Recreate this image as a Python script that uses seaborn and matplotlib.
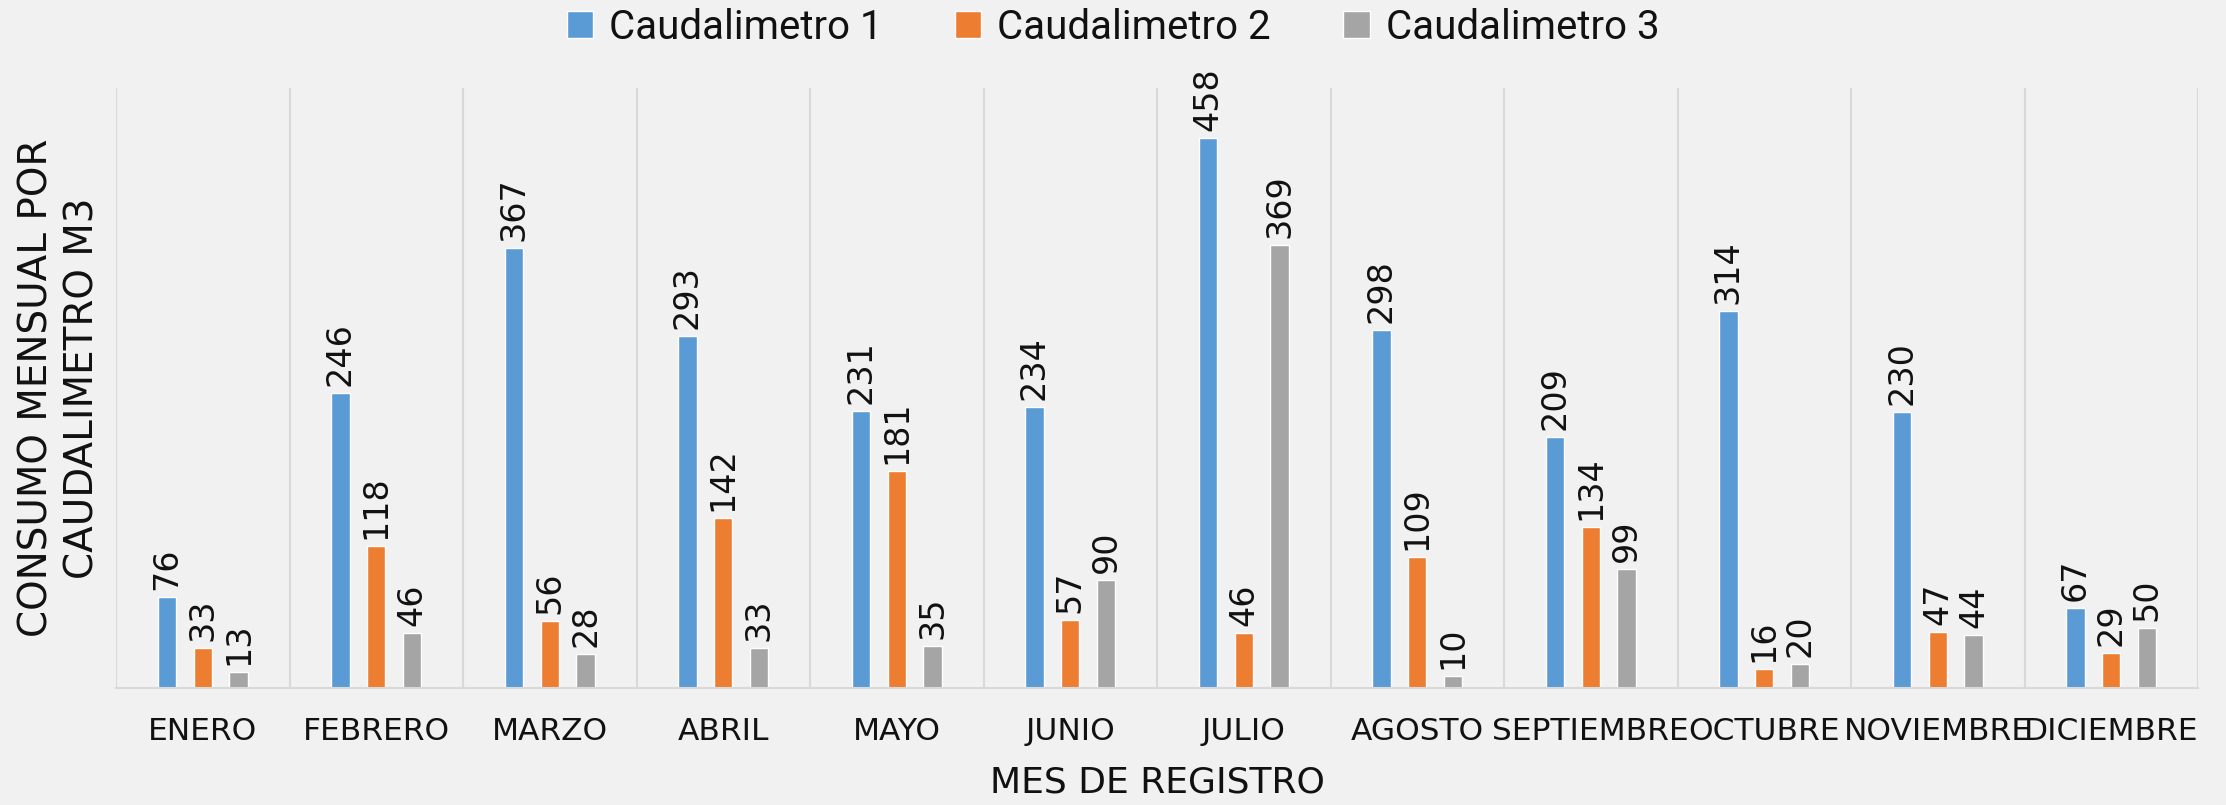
import matplotlib
matplotlib.use("Agg")
import matplotlib.pyplot as plt
import seaborn as sns
import pandas as pd
import numpy as np

meses = ["ENERO", "FEBRERO", "MARZO", "ABRIL", "MAYO", "JUNIO", "JULIO",
         "AGOSTO", "SEPTIEMBRE", "OCTUBRE", "NOVIEMBRE", "DICIEMBRE"]
series = ["Caudalimetro 1", "Caudalimetro 2", "Caudalimetro 3"]
c1 = [76, 246, 367, 293, 231, 234, 458, 298, 209, 314, 230, 67]
c2 = [33, 118, 56, 142, 181, 57, 46, 109, 134, 16, 47, 29]
c3 = [13, 46, 28, 33, 35, 90, 369, 10, 99, 20, 44, 50]
colores = ["#5B9BD5", "#ED7D31", "#A5A5A5"]

df = pd.DataFrame({
    "mes": meses * 3,
    "serie": [series[0]] * 12 + [series[1]] * 12 + [series[2]] * 12,
    "valor": c1 + c2 + c3,
})

sns.set_theme(style="white")
plt.rcParams["font.family"] = ["DejaVu Sans"]
bg = "#f1f1f1"

fig = plt.figure(figsize=(22.26, 8.05), dpi=100, facecolor=bg)
ax = fig.add_axes([116 / 2226, 1 - 688 / 805, (2198 - 116) / 2226, 600 / 805])
ax.set_facecolor(bg)

sns.barplot(data=df, x="mes", y="valor", hue="serie", order=meses,
            hue_order=series, palette=colores, width=0.62, gap=0.49,
            saturation=1, errorbar=None, ax=ax, legend=True)

for cont in ax.containers:
    ax.bar_label(cont, rotation=90, padding=5, fontsize=24, color="#111111")

ax.set_ylim(0, 500)
ax.set_xlim(-0.5, 11.5)
ax.set_yticks([])
ax.set_xticks(range(12))
ax.set_xticklabels(meses, fontsize=22.5, color="#111111")
ax.tick_params(axis="x", length=0, pad=21)
ax.set_xticks(np.arange(-0.5, 12, 1), minor=True)
ax.tick_params(axis="x", which="minor", length=0)
ax.grid(False)
ax.grid(True, axis="x", which="minor", color="#d9d9d9", linewidth=1.5)

for s in ["top", "left", "right"]:
    ax.spines[s].set_visible(False)
ax.spines["bottom"].set_color("#d9d9d9")
ax.spines["bottom"].set_linewidth(1.5)

ax.set_xlabel("")
ax.set_ylabel("CONSUMO MENSUAL POR\nCAUDALIMETRO M3", fontsize=28,
              color="#111111", linespacing=1.25)
ax.yaxis.set_label_coords(-0.007, 0.5)
fig.text(0.5 * (116 + 2198) / 2226, 1 - 782 / 805, "MES DE REGISTRO",
         ha="center", va="center", fontsize=26, color="#111111")

h, l = ax.get_legend_handles_labels()
ax.get_legend().remove()
fig.legend(h, l, loc="upper center", bbox_to_anchor=(0.5, 1.035), ncol=3,
           frameon=False, handlelength=0.65, handleheight=0.65,
           handletextpad=0.4, columnspacing=1.8, labelcolor="#111111",
           prop={"family": ["Roboto", "DejaVu Sans"], "size": 29})

fig.savefig("out.png", dpi=100, facecolor=bg)
